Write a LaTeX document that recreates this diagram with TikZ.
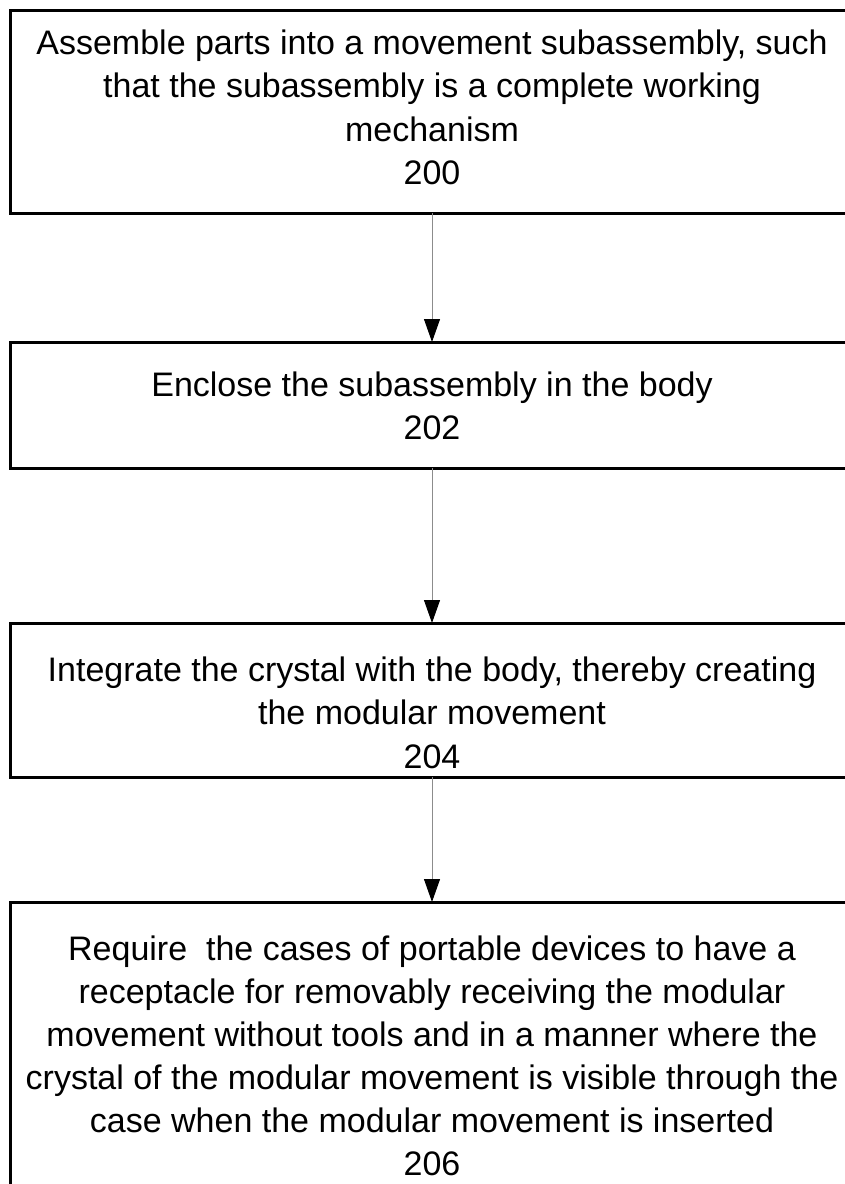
\documentclass[tikz,border=0pt]{standalone}
\usepackage{fontspec}
\setmainfont{Liberation Sans}
\usetikzlibrary{arrows.meta}
\begin{document}
\begin{tikzpicture}[x=1pt,y=1pt,
  box/.style={draw=black, line width=3pt, minimum width=844pt, inner sep=0pt, outer sep=0pt, anchor=north west},
  txt/.style={anchor=north, inner sep=0pt, align=center, font=\fontsize{34}{43.5}\selectfont},
  flow/.style={draw=black!45, line width=1pt, -{Triangle[length=23pt,width=16pt,color=black]}}]
\useasboundingbox (0,0) rectangle (844,-1184);
\fill[white] (0,0) rectangle (844,-1184);
\node[box, minimum height=203pt] (b1) at (10,-10) {};
\node[box, minimum height=126pt] (b2) at (10,-342) {};
\node[box, minimum height=154pt] (b3) at (10,-623) {};
\node[box, minimum height=398pt] (b4) at (10,-902) {};
\node[txt] (t1) at (432,-28) {\rule{0pt}{26pt}Assemble parts into a movement subassembly, such\\that the subassembly is a complete working\\mechanism\\200};
\node[txt] (t2) at (432,-370) {\rule{0pt}{26pt}Enclose the subassembly in the body\\202};
\node[txt] (t3) at (432,-655) {\rule{0pt}{26pt}Integrate the crystal with the body, thereby creating\\the modular movement\\204};
\node[txt, font=\fontsize{34}{43}\selectfont] (t4) at (432,-934) {\rule{0pt}{26pt}Require~ the cases of portable devices to have a\\receptacle for removably receiving the modular\\movement without tools and in a manner where the\\crystal of the modular movement is visible through the\\case when the modular movement is inserted\\206};
\draw[flow] (b1.south) -- (b2.north);
\draw[flow] (b2.south) -- (b3.north);
\draw[flow] (b3.south) -- (b4.north);
\end{tikzpicture}
\end{document}
